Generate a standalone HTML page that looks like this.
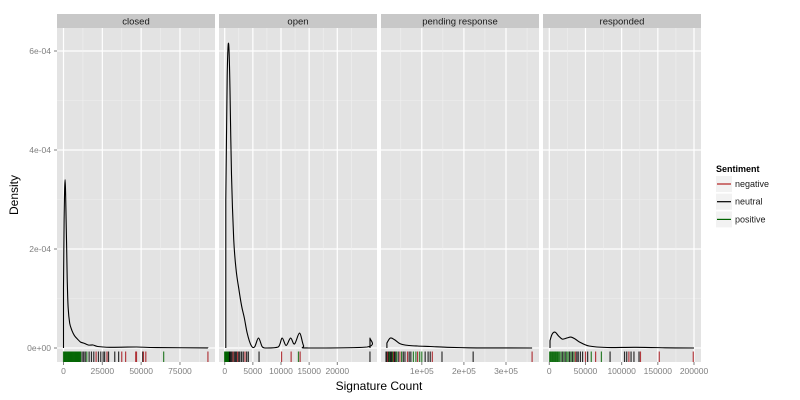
<!DOCTYPE html>
<html><head><meta charset="utf-8"><style>
body{margin:0;background:#fff;}
svg{display:block;font-family:"Liberation Sans",sans-serif;}
</style></head><body>
<svg id="chart" width="800" height="400" viewBox="0 0 800 400" xmlns="http://www.w3.org/2000/svg"></svg>
<script>
const panelNames = ["closed","open","pending response","responded"];
const yTicks = [0,2,4,6]; // units of 1e-4
const yTickLabels = ["0e+00","2e-04","4e-04","6e-04"];
// density curves: x values and density (1e-4)
const closedX = [0,0,400,1000,1700,2400,3000,4000,5500,7000,9000,11000,13000,16000,19000,22000,30000,47000,60000,93000,93000];
const closedD = [0,1.2,2.6,3.4,2.6,1.4,0.8,0.5,0.35,0.25,0.18,0.12,0.1,0.06,0.06,0.03,0.015,0.02,0.008,0.003,0];
const openX = [200,200,450,700,950,1200,1600,2000,2500,3000,3500,4000,4700,5300,6000,6700,7500,9500,10200,10900,11700,12400,13300,14000,14800,25300,25800,25800];
const openD = [0,3,5.5,6.15,5.2,3.5,2.2,1.6,1.2,0.85,0.6,0.3,0.05,0.02,0.2,0.02,0,0.02,0.2,0.05,0.2,0.08,0.3,0.05,0,0.02,0.2,0];
const pendingX = [17000,17000,25000,35000,50000,70000,90000,120000,160000,210000,260000,362000,362000];
const pendingD = [0,0.1,0.2,0.17,0.08,0.05,0.04,0.03,0.015,0.005,0.002,0,0];
const respondedX = [1000,1000,4000,8000,13000,18000,24000,30000,36000,42000,55000,80000,120000,160000,200000,200000];
const respondedD = [0,0.15,0.28,0.32,0.24,0.18,0.2,0.22,0.18,0.12,0.04,0.01,0.015,0.005,0,0];
// rug values and sentiment (n=negative,u=neutral,p=positive)
const closedRugX = [0,300,600,900,1200,1500,1800,2100,2400,2700,3000,3300,3600,3900,4200,4500,4800,5100,5400,5700,6000,6300,6600,6900,7200,7500,7800,8100,8400,8700,9000,9300,9600,9900,10200,10500,10800,11000,12000,13000,14000,15000,16500,18000,19500,21000,22500,24000,25500,26500,28000,29000,33000,35500,37500,40000,46500,47000,51000,51500,53000,64500,93000];
const closedRugS = "ppppppppppppppppppppppppppppppppppppppuuupuuunuuuunuuunnnnunnpnun";
const openRugX = [0,50,100,150,200,250,300,350,400,450,500,550,600,650,700,750,850,950,1100,1300,1500,1700,1900,2100,2300,2500,2700,3000,3300,3600,3900,4200,6100,10100,11800,13100,13400,25800];
const openRugS = "ppppppppppppppppuuuunuuunuuuunuuunnpnuu";
const pendingRugX = [15000,17000,19000,21000,23000,25000,27000,29000,31000,33000,35000,37000,40000,44000,48000,52000,56000,60000,66000,70000,74000,80000,86000,90000,95000,100000,108000,115000,120000,125000,148000,222000,362000];
const pendingRugS = "uunupuuupnuupunpuunuuppnppuuunuunnun";
const respondedRugX = [500,1500,2500,3500,4500,5500,6500,7500,8500,9500,10500,11500,12500,14000,16000,18000,20000,22000,24000,26000,28000,30000,32000,34000,36000,38000,40000,43000,46000,50000,53000,58000,64000,72000,84000,104000,107000,110000,113000,117000,124000,126000,152000,199000];
const respondedRugS = "pppppppppppppppupuppupupnuuuunupnpuuunuuunnn";
const legendLabels = ["negative","neutral","positive"];

const colors = {n:"#a50f15", u:"#000000", p:"#006400"};
const legendColors = ["#b22222","#000000","#006400"];
const svg = document.getElementById("chart");
const NS = "http://www.w3.org/2000/svg";
function mk(tag, attrs, parent){
  const e = document.createElementNS(NS, tag);
  for (const k in attrs) e.setAttribute(k, attrs[k]);
  (parent||svg).appendChild(e);
  return e;
}
const plotTop = 28, plotBottom = 362;
function yScale(d){ return 348 - d*49.5; }
function smoothPath(pts){
  // first and last segments straight (vertical), interior Catmull-Rom
  let d = "M"+pts[0][0].toFixed(1)+","+pts[0][1].toFixed(1)+"L"+pts[1][0].toFixed(1)+","+pts[1][1].toFixed(1);
  const n = pts.length;
  for (let i=1;i<n-2;i++){
    const p0=pts[Math.max(1,i-1)], p1=pts[i], p2=pts[i+1], p3=pts[Math.min(n-2,i+2)];
    const c1x=p1[0]+(p2[0]-p0[0])/6, c1y=p1[1]+(p2[1]-p0[1])/6;
    const c2x=p2[0]-(p3[0]-p1[0])/6, c2y=p2[1]-(p3[1]-p1[1])/6;
    d += "C"+c1x.toFixed(1)+","+Math.min(348,c1y).toFixed(1)+" "+c2x.toFixed(1)+","+Math.min(348,c2y).toFixed(1)+" "+p2[0].toFixed(1)+","+p2[1].toFixed(1);
  }
  d += "L"+pts[n-1][0].toFixed(1)+","+pts[n-1][1].toFixed(1);
  return d;
}
const panels = [
  {left:57, x0:63.5, k:1.553/1000, X:closedX, D:closedD, RX:closedRugX, RS:closedRugS, major:[0,25000,50000,75000], labels:["0","25000","50000","75000"], minor:[12500,37500,62500,87500]},
  {left:219, x0:224.7, k:5.63/1000, X:openX, D:openD, RX:openRugX, RS:openRugS, major:[0,5000,10000,15000,20000], labels:["0","5000","10000","15000","20000"], minor:[2500,7500,12500,17500,22500]},
  {left:381, x0:379.7, k:0.421/1000, X:pendingX, D:pendingD, RX:pendingRugX, RS:pendingRugS, major:[100000,200000,300000], labels:["1e+05","2e+05","3e+05"], minor:[50000,150000,250000,350000]},
  {left:543, x0:549.3, k:0.7235/1000, X:respondedX, D:respondedD, RX:respondedRugX, RS:respondedRugS, major:[0,50000,100000,150000,200000], labels:["0","50000","100000","150000","200000"], minor:[25000,75000,125000,175000]}
];
const W = 158;
panels.forEach((p,i)=>{
  const g = mk("g",{});
  
  
  mk("rect",{x:p.left,y:plotTop,width:W,height:plotBottom-plotTop,fill:"#e3e3e3"},g);
  const xs = v => p.x0 + v*p.k;
  [1,3,5].forEach(t=>mk("line",{x1:p.left,x2:p.left+W,y1:yScale(t),y2:yScale(t),stroke:"#f0f0f0","stroke-width":0.6},g));
  yTicks.forEach(t=>mk("line",{x1:p.left,x2:p.left+W,y1:yScale(t),y2:yScale(t),stroke:"#ffffff","stroke-width":1.2},g));
  p.minor.forEach(v=>{const x=xs(v); if(x>p.left&&x<p.left+W) mk("line",{x1:x,x2:x,y1:plotTop,y2:plotBottom,stroke:"#f0f0f0","stroke-width":0.6},g);});
  p.major.forEach(v=>mk("line",{x1:xs(v),x2:xs(v),y1:plotTop,y2:plotBottom,stroke:"#ffffff","stroke-width":1.2},g));
  const strip = mk("rect",{x:p.left,y:14,width:W,height:14,fill:"#c8c8c8"},g);
  
  
  const st = mk("text",{x:p.left+W/2,y:24.5,"text-anchor":"middle","font-size":"9.5",fill:"#1a1a1a"},g);
  st.textContent = panelNames[i];
  p.RX.forEach((v,j)=>{
    const r = mk("line",{x1:xs(v),x2:xs(v),y1:351.5,y2:362,stroke:colors[p.RS[j]]||"#000","stroke-width":1.2,"stroke-opacity":0.8},g);
    
    
  });
  const pts = p.X.map((v,j)=>[xs(v), yScale(p.D[j])]);
  const path = mk("path",{d:smoothPath(pts),fill:"none",stroke:"#000","stroke-width":1.1,"stroke-linejoin":"round"},g);
  
  
  p.major.forEach((v,j)=>{
    const x = xs(v);
    if (x < p.left) return;
    mk("line",{x1:x,x2:x,y1:362,y2:365,stroke:"#7f7f7f"},g);
    const t = mk("text",{x:x,y:374,"text-anchor":"middle","font-size":"8.5",fill:"#7f7f7f"},g);
    
    
    t.textContent = p.labels[j];
  });
});
yTicks.forEach((t,j)=>{
  mk("line",{x1:54,x2:57,y1:yScale(t),y2:yScale(t),stroke:"#7f7f7f"});
  const tx = mk("text",{x:51,y:yScale(t)+3,"text-anchor":"end","font-size":"8.5",fill:"#7f7f7f"});
  
  
  tx.textContent = yTickLabels[j];
});
const xt = mk("text",{x:379,y:390,"text-anchor":"middle","font-size":"12",fill:"#000"});


xt.textContent = "Signature Count";
const yt = mk("text",{x:0,y:0,"text-anchor":"middle","font-size":"12",fill:"#000",transform:"translate(18,195) rotate(-90)"});


yt.textContent = "Density";
const lg = mk("g",{});


const ltitle = mk("text",{x:716,y:172,"font-size":"9","font-weight":"bold",fill:"#000"},lg);
ltitle.textContent = "Sentiment";
legendLabels.forEach((lab,j)=>{
  const y0 = 176 + j*17.7;
  const e = mk("g",{},lg);
  
  
  mk("rect",{x:716,y:y0,width:16,height:16,fill:"#f2f2f2"},e);
  mk("line",{x1:717,x2:731,y1:y0+8,y2:y0+8,stroke:legendColors[j],"stroke-width":1.2},e);
  const t = mk("text",{x:735,y:y0+11,"font-size":"9",fill:"#1a1a1a"},e);
  t.textContent = lab;
});
</script>
</body></html>
